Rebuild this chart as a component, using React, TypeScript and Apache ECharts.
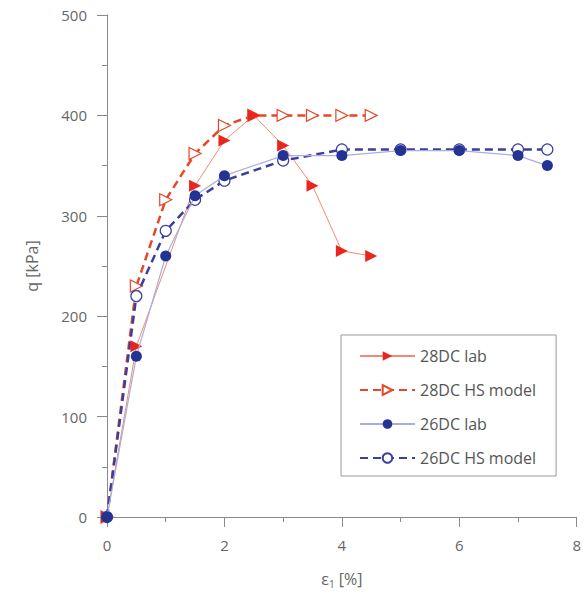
import React, { useEffect, useRef } from "react";
import * as echarts from "echarts";

const x28Lab = [0, 0.5, 1.5, 2, 2.5, 3, 3.5, 4, 4.5];
const q28Lab = [0, 170, 330, 375, 400, 370, 330, 265, 260];
const x28HS = [0, 0.5, 1, 1.5, 2, 2.5, 3, 3.5, 4, 4.5];
const q28HS = [0, 230, 316, 362, 390, 400, 400, 400, 400, 400];
const x26Lab = [0, 0.5, 1, 1.5, 2, 3, 4, 5, 6, 7, 7.5];
const q26Lab = [0, 160, 260, 320, 340, 360, 360, 365, 365, 360, 350];
const x26HS = [0, 0.5, 1, 1.5, 2, 3, 4, 5, 6, 7, 7.5];
const q26HS = [0, 220, 285, 316, 335, 355, 366, 366, 366, 366, 366];

const seriesNames = ["28DC lab", "28DC HS model", "26DC lab", "26DC HS model"];

const zip = (xs: number[], ys: number[]) => xs.map((x, i) => [x, ys[i]]);

const FONT = "'Open Sans', 'Noto Sans', sans-serif";
const RED = "#e8261f";
const RED_DASH = "#e5472b";
const RED_THIN = "#f08a78";
const BLUE = "#233394";
const BLUE_THIN = "#a9aede";
const BLUE_DASH = "#3a3f9e";

export default function App() {
  const ref = useRef<HTMLDivElement>(null);
  useEffect(() => {
    if (!ref.current) return;
    const chart = echarts.init(ref.current, undefined, { renderer: "svg" });
    const axisCommon = {
      type: "value" as const,
      axisLine: { show: true, lineStyle: { color: "#8a8a8a", width: 1 } },
      axisTick: { show: true, inside: false, length: 10, lineStyle: { color: "#8a8a8a" } },
      minorTick: { show: true, splitNumber: 2, length: 5, lineStyle: { color: "#8a8a8a" } },
      splitLine: { show: false },
      axisLabel: { color: "#666", fontSize: 15, fontFamily: FONT },
      nameTextStyle: { color: "#666", fontSize: 16, fontFamily: FONT },
    };
    chart.setOption({
      animation: false,
      backgroundColor: "#fff",
      textStyle: { fontFamily: FONT },
      grid: { left: 107, right: 6, top: 15, bottom: 71, containLabel: false },
      xAxis: {
        ...axisCommon,
        min: 0,
        max: 8,
        interval: 2,
        name: "ε{s|1} [%]",
        nameLocation: "middle",
        nameGap: 52,
        axisLabel: { ...axisCommon.axisLabel, margin: 20 },
        nameTextStyle: {
          ...axisCommon.nameTextStyle,
          rich: { s: { fontSize: 10, color: "#666", fontFamily: FONT, padding: [10, 0, 0, 0] } },
        },
      },
      yAxis: {
        ...axisCommon,
        min: 0,
        max: 500,
        interval: 100,
        name: "q [kPa]",
        nameLocation: "middle",
        nameGap: 67,
        axisLabel: { ...axisCommon.axisLabel, margin: 20 },
      },
      legend: {
        show: true,
        orient: "vertical",
        left: 341,
        top: 335,
        padding: [13, 20, 10, 18],
        itemWidth: 55,
        itemHeight: 12,
        itemGap: 18,
        borderColor: "#999",
        borderWidth: 1,
        selectedMode: false,
        textStyle: { color: "#555", fontSize: 16, fontFamily: FONT },
        data: seriesNames,
      },
      series: [
        {
          name: seriesNames[0],
          type: "line",
          data: zip(x28Lab, q28Lab),
          symbol: "triangle",
          symbolSize: 12,
          symbolRotate: -90,
          lineStyle: { color: RED_THIN, width: 1 },
          itemStyle: { color: RED },
          z: 3,
        },
        {
          name: seriesNames[1],
          type: "line",
          data: zip(x28HS, q28HS),
          symbol: "triangle",
          symbolSize: 12,
          symbolRotate: -90,
          lineStyle: { color: RED_DASH, width: 2.5, type: [8, 5] },
          itemStyle: { color: "#fff", borderColor: RED_DASH, borderWidth: 1.2 },
          z: 2,
        },
        {
          name: seriesNames[2],
          type: "line",
          data: zip(x26Lab, q26Lab),
          symbol: "circle",
          symbolSize: 11,
          lineStyle: { color: BLUE_THIN, width: 1.2 },
          itemStyle: { color: BLUE },
          z: 4,
        },
        {
          name: seriesNames[3],
          type: "line",
          data: zip(x26HS, q26HS),
          symbol: "circle",
          symbolSize: 11,
          lineStyle: { color: BLUE_DASH, width: 2.5, type: [8, 5] },
          itemStyle: { color: "#fff", borderColor: BLUE_DASH, borderWidth: 1.2 },
          z: 3,
        },
      ],
    });
    return () => chart.dispose();
  }, []);
  return <div ref={ref} style={{ width: 584, height: 594, position: "absolute", left: 0, top: 0 }} />;
}
